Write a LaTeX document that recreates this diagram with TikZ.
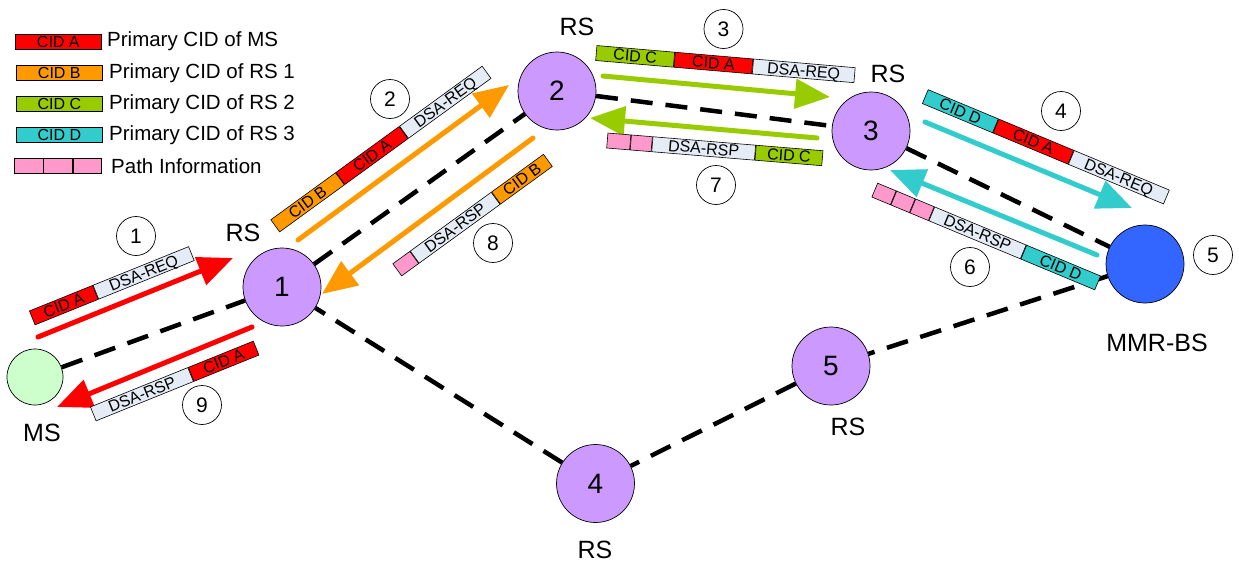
\documentclass[tikz,border=0pt]{standalone}
\usepackage{fontspec}
\setmainfont{Liberation Sans}
\usetikzlibrary{arrows.meta}
\definecolor{cidA}{HTML}{FF0000}
\definecolor{cidB}{HTML}{FF9900}
\definecolor{cidC}{HTML}{99CC00}
\definecolor{cidD}{HTML}{33CCCC}
\definecolor{pale}{HTML}{E5ECF6}
\definecolor{pinkc}{HTML}{FF99CC}
\definecolor{rsfill}{HTML}{CC99FF}
\definecolor{msfill}{HTML}{CCFFCC}
\definecolor{bsfill}{HTML}{3366FF}
\tikzset{
  station/.style={circle, draw, line width=0.7pt, minimum size=78pt, inner sep=0pt, fill=rsfill, font=\fontsize{28}{28}\selectfont},
  numc/.style={circle, draw, line width=0.7pt, minimum size=39pt, inner sep=0pt, fill=white, font=\fontsize{21}{21}\selectfont},
  lbl/.style={font=\fontsize{25}{25}\selectfont, inner sep=0pt},
  link/.style={line width=4.5pt, dash pattern=on 22pt off 13pt},
  msg/.style={-{Triangle[length=35pt,width=29pt]}, line width=5pt, line cap=round},
  seg/.style={draw, line width=0.6pt, minimum height=15pt, inner sep=0pt, text height=11pt, text depth=0pt, font=\fontsize{16}{16}\selectfont, anchor=west},
  legtxt/.style={font=\fontsize{20.5}{20.5}\selectfont, anchor=west, inner sep=0pt},
}
\begin{document}
\begin{tikzpicture}[x=1pt,y=-1pt]
\useasboundingbox (0,0) rectangle (1239,565);

% legend
\node[seg, fill=cidA, minimum width=86pt] (lA) at (15,41.5) {CID A};
\node[legtxt] (tA) at (107,41.5) {Primary CID of MS};
\node[seg, fill=cidB, minimum width=86pt] (lB) at (16,73) {CID B};
\node[legtxt] (tB) at (109,73) {Primary CID of RS 1};
\node[seg, fill=cidC, minimum width=86pt] (lC) at (16,104) {CID C};
\node[legtxt] (tC) at (109,104) {Primary CID of RS 2};
\node[seg, fill=cidD, minimum width=86pt] (lD) at (16,135) {CID D};
\node[legtxt] (tD) at (109,135) {Primary CID of RS 3};
\node[seg, fill=pinkc, minimum width=28.7pt] (lP1) at (14,166) {};
\node[seg, fill=pinkc, minimum width=28.7pt] (lP2) at (lP1.east) {};
\node[seg, fill=pinkc, minimum width=28.7pt] (lP3) at (lP2.east) {};
\node[legtxt] (tP) at (111,166) {Path Information};

% stations
\node[station, fill=msfill, minimum size=56pt] (ms) at (35,377) {};
\node[station] (rs1) at (282,287) {1};
\node[station] (rs2) at (557,91) {2};
\node[station] (rs3) at (871,131) {3};
\node[station, fill=bsfill] (bs) at (1145,264) {};
\node[station] (rs5) at (831,366) {5};
\node[station] (rs4) at (595.5,483.5) {4};

% station labels
\node[lbl] (lms) at (42,433) {MS};
\node[lbl] (lrs1) at (243,233) {RS};
\node[lbl] (lrs2) at (577,27) {RS};
\node[lbl] (lrs3) at (888,74) {RS};
\node[lbl] (lbs) at (1157,343) {MMR-BS};
\node[lbl] (lrs5) at (848,427) {RS};
\node[lbl] (lrs4) at (595,550) {RS};

% links
\draw[link] (ms) -- (rs1);
\draw[link] (rs1) -- (rs2);
\draw[link] (rs2) -- (rs3);
\draw[link] (rs3) -- (bs);
\draw[link] (bs) -- (rs5);
\draw[link] (rs5) -- (rs4);
\draw[link] (rs4) -- (rs1);

% arrow end points
\coordinate (a1s) at (38,337);   \coordinate (a1e) at (233,258);
\coordinate (a9s) at (252,327);  \coordinate (a9e) at (57,407);
\coordinate (a2s) at (298,240);  \coordinate (a2e) at (509,85);
\coordinate (a8s) at (533,138);  \coordinate (a8e) at (322,294);
\coordinate (a3s) at (603,76);   \coordinate (a3e) at (830,97);
\coordinate (a7s) at (817,138);  \coordinate (a7e) at (590,118);
\coordinate (a4s) at (925,122);  \coordinate (a4e) at (1132,208);
\coordinate (a6s) at (1097,255); \coordinate (a6e) at (890,170);

\draw[msg, cidA] (a1s) -- (a1e);
\draw[msg, cidA] (a9s) -- (a9e);
\draw[msg, cidB] (a2s) -- (a2e);
\draw[msg, cidB] (a8s) -- (a8e);
\draw[msg, cidC] (a3s) -- (a3e);
\draw[msg, cidC] (a7s) -- (a7e);
\draw[msg, cidD] (a4s) -- (a4e);
\draw[msg, cidD] (a6s) -- (a6e);

% message bars
% 1
\node[seg, fill=cidA, minimum width=68pt, rotate=22] (b1a) at (32,318) {CID A};
\node[seg, fill=pale, minimum width=103pt, rotate=22] (b1b) at (b1a.east) {DSA-REQ};
% 9
\node[seg, fill=pale, minimum width=105pt, rotate=22] (b9a) at (93,414) {DSA-RSP};
\node[seg, fill=cidA, minimum width=70pt, rotate=22] (b9b) at (b9a.east) {CID A};
% 2
\node[seg, fill=cidB, minimum width=80pt, rotate=36] (b2a) at (275,226) {CID B};
\node[seg, fill=cidA, minimum width=78pt, rotate=36] (b2b) at (b2a.east) {CID A};
\node[seg, fill=pale, minimum width=102pt, rotate=36] (b2c) at (b2b.east) {DSA-REQ};
% 8
\node[seg, fill=pinkc, minimum width=21pt, rotate=36] (b8a) at (397,270) {};
\node[seg, fill=pale, minimum width=100pt, rotate=36] (b8b) at (b8a.east) {DSA-RSP};
\node[seg, fill=cidB, minimum width=64pt, rotate=36] (b8c) at (b8b.east) {CID B};
% 3
\node[seg, fill=cidC, minimum width=78pt, rotate=-4.9] (b3a) at (596,53) {CID C};
\node[seg, fill=cidA, minimum width=78pt, rotate=-4.9] (b3b) at (b3a.east) {CID A};
\node[seg, fill=pale, minimum width=102pt, rotate=-4.9] (b3c) at (b3b.east) {DSA-REQ};
% 7
\node[seg, fill=pinkc, minimum width=23pt, rotate=-4.7] (b7a) at (607,140.5) {};
\node[seg, fill=pinkc, minimum width=21pt, rotate=-4.7] (b7b) at (b7a.east) {};
\node[seg, fill=pale, minimum width=103pt, rotate=-4.7] (b7c) at (b7b.east) {DSA-RSP};
\node[seg, fill=cidC, minimum width=67pt, rotate=-4.7] (b7d) at (b7c.east) {CID C};
% 4
\node[seg, fill=cidD, minimum width=76pt, rotate=-22.6] (b4a) at (925,96.5) {CID D};
\node[seg, fill=cidA, minimum width=81pt, rotate=-22.6] (b4b) at (b4a.east) {CID A};
\node[seg, fill=pale, minimum width=103pt, rotate=-22.6] (b4c) at (b4b.east) {DSA-REQ};
% 6
\node[seg, fill=pinkc, minimum width=20pt, rotate=-22.6] (b6a) at (874.5,190) {};
\node[seg, fill=pinkc, minimum width=20pt, rotate=-22.6] (b6b) at (b6a.east) {};
\node[seg, fill=pinkc, minimum width=20pt, rotate=-22.6] (b6c) at (b6b.east) {};
\node[seg, fill=pale, minimum width=99pt, rotate=-22.6] (b6d) at (b6c.east) {DSA-RSP};
\node[seg, fill=cidD, minimum width=80pt, rotate=-22.6] (b6e) at (b6d.east) {CID D};

% step numbers
\node[numc] (n1) at (136,236) {1};
\node[numc] (n2) at (390,99) {2};
\node[numc] (n3) at (723.5,29) {3};
\node[numc] (n4) at (1061,111) {4};
\node[numc] (n5) at (1213,255) {5};
\node[numc] (n6) at (970,267) {6};
\node[numc] (n7) at (716,185) {7};
\node[numc] (n8) at (493,243) {8};
\node[numc] (n9) at (202,405) {9};
\end{tikzpicture}
\end{document}
